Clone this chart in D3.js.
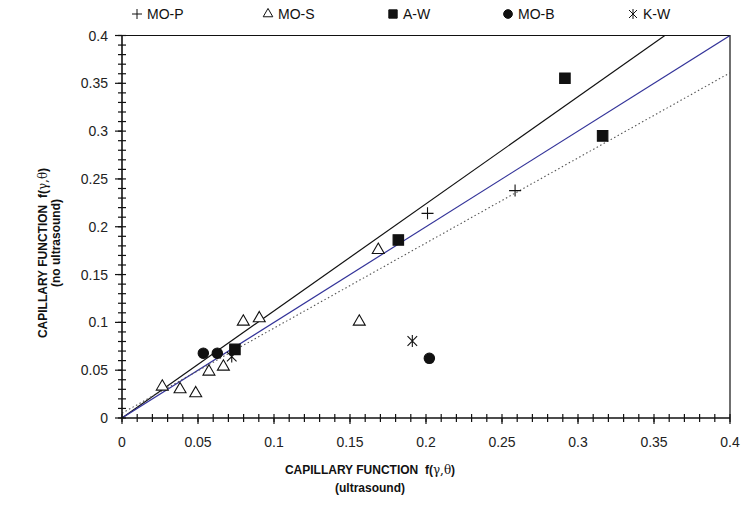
<!DOCTYPE html>
<html>
<head>
<meta charset="utf-8">
<script src="https://cdn.jsdelivr.net/npm/d3@7"></script>
<style>
  body { margin: 0; background: #fff; }
  svg { display: block; font-family: "Liberation Sans", Arial, sans-serif; }
</style>
</head>
<body>
<div id="chart"></div>
<script>
// Data: [ultrasound, no ultrasound]
const moP = [[0.201, 0.214], [0.2586, 0.2378]];
const moS = [[0.0265, 0.0328], [0.0382, 0.030], [0.0485, 0.0258], [0.0572, 0.0485],
  [0.0667, 0.0537], [0.0798, 0.1007], [0.0903, 0.1042], [0.1561, 0.1007], [0.1686, 0.1757]];
const aW = [[0.0743, 0.0718], [0.1818, 0.1862], [0.2914, 0.3553], [0.3162, 0.295]];
const moB = [[0.0535, 0.0677], [0.0627, 0.0677], [0.2022, 0.0624]];
const kW = [[0.0722, 0.0642], [0.191, 0.0805]];
const seriesNames = ['MO-P', 'MO-S', 'A-W', 'MO-B', 'K-W'];
const tickValues = [0, 0.05, 0.1, 0.15, 0.2, 0.25, 0.3, 0.35, 0.4];
// reference lines: y = slope * x + intercept
const refLines = [
  {slope: 1.12, intercept: 0, color: '#111', dash: null},
  {slope: 1.0, intercept: 0, color: '#333399', dash: null},
  {slope: 0.89, intercept: 0.005, color: '#555', dash: '1.5,2.5'},
];

const width = 742, height = 508;
const svg = d3.select('#chart').append('svg').attr('width', width).attr('height', height);

const x = d3.scaleLinear().domain([0, 0.4]).range([122, 730]);
const y = d3.scaleLinear().domain([0, 0.4]).range([418, 35.5]);
const fmt = d => String(+d.toFixed(2));

// frame (top/right)
svg.append('path')
  .attr('d', `M${x(0)},${y(0.4)}H${x(0.4)}V${y(0)}`)
  .attr('fill', 'none').attr('stroke', '#111').attr('stroke-width', 1.2);

// reference lines, clipped to the plot box
svg.append('clipPath').attr('id', 'plot')
  .append('rect').attr('x', x(0)).attr('y', y(0.4))
  .attr('width', x(0.4) - x(0)).attr('height', y(0) - y(0.4));

const line = d3.line().x(d => x(d[0])).y(d => y(d[1]));
refLines.forEach(l => {
  const pts = [[0, l.intercept], [0.4, l.intercept + l.slope * 0.4]];
  svg.append('path').attr('d', line(pts))
    .attr('clip-path', 'url(#plot)')
    .attr('fill', 'none').attr('stroke', l.color)
    .attr('stroke-width', l.dash ? 1.1 : 1.2)
    .attr('stroke-dasharray', l.dash);
});

// axes lines and ticks (ticks cross the axis)
const minor = d3.range(0, 0.4001, 0.01);
const axes = svg.append('g').attr('stroke', '#111');
axes.append('line').attr('x1', x(0)).attr('x2', x(0.4)).attr('y1', y(0)).attr('y2', y(0)).attr('stroke-width', 1.6);
axes.append('line').attr('x1', x(0)).attr('x2', x(0)).attr('y1', y(0)).attr('y2', y(0.4)).attr('stroke-width', 1.6);
axes.selectAll('.xt').data(minor).join('line')
  .attr('x1', d => x(d)).attr('x2', d => x(d))
  .attr('y1', y(0) - 4).attr('y2', y(0) + 4).attr('stroke-width', 1.2);
axes.selectAll('.yt').data(minor).join('line')
  .attr('y1', d => y(d)).attr('y2', d => y(d))
  .attr('x1', x(0) - 4).attr('x2', x(0) + 4).attr('stroke-width', 1.2);
axes.selectAll('.xm').data(tickValues).join('line')
  .attr('x1', d => x(d)).attr('x2', d => x(d))
  .attr('y1', y(0)).attr('y2', y(0) + 6).attr('stroke-width', 1.2);
axes.selectAll('.ym').data(tickValues).join('line')
  .attr('y1', d => y(d)).attr('y2', d => y(d))
  .attr('x1', x(0) - 7).attr('x2', x(0)).attr('stroke-width', 1.2);

// tick labels
svg.append('g').selectAll('text').data(tickValues).join('text')
  .attr('x', d => x(d)).attr('y', 447).attr('text-anchor', 'middle')
  .attr('font-size', 14).attr('fill', '#222').text(fmt);
svg.append('g').selectAll('text').data(tickValues).join('text')
  .attr('x', 108).attr('y', d => y(d) + 5).attr('text-anchor', 'end')
  .attr('font-size', 14).attr('fill', '#222').text(fmt);

// axis titles
function title(g) {
  const t = g.append('text').attr('text-anchor', 'middle').attr('font-size', 12)
    .attr('font-weight', 'bold').attr('fill', '#111');
  t.append('tspan').text('CAPILLARY FUNCTION\u00a0\u00a0f(');
  t.append('tspan').attr('font-weight', 'normal').attr('font-family', '"DejaVu Serif", serif').text('γ,θ');
  t.append('tspan').text(')');
  return g;
}
const xt = svg.append('g').attr('transform', 'translate(370,474)');
title(xt);
svg.append('text').attr('x', 370).attr('y', 492).attr('text-anchor', 'middle')
  .attr('font-size', 12).attr('font-weight', 'bold').attr('fill', '#111').text('(ultrasound)');

const yt = svg.append('g').attr('transform', 'translate(47,253) rotate(-90)');
title(yt);
svg.append('text').attr('transform', 'translate(60,243) rotate(-90)').attr('text-anchor', 'middle')
  .attr('font-size', 12).attr('font-weight', 'bold').attr('fill', '#111').text('(no ultrasound)');

// marker shapes
const plusPath = r => `M${-r},0H${r}M0,${-r}V${r}`;
const starPath = r => {
  const a = r * 0.8;
  return `M0,${-r}V${r}M${-a},${-a}L${a},${a}M${-a},${a}L${a},${-a}`;
};
const markers = {
  'MO-P': {data: moP, d: plusPath(6), fill: 'none', lg: plusPath(5)},
  'MO-S': {data: moS, d: d3.symbol(d3.symbolTriangle, 62)(), fill: '#fff', lg: d3.symbol(d3.symbolTriangle, 40)()},
  'A-W': {data: aW, d: d3.symbol(d3.symbolSquare, 110)(), fill: '#111', lg: d3.symbol(d3.symbolSquare, 70)()},
  'MO-B': {data: moB, d: d3.symbol(d3.symbolCircle, 85)(), fill: '#111', lg: d3.symbol(d3.symbolCircle, 60)()},
  'K-W': {data: kW, d: starPath(6), fill: 'none', lg: starPath(5)},
};

seriesNames.forEach(name => {
  const m = markers[name];
  svg.append('g').selectAll('path').data(m.data).join('path')
    .attr('transform', d => `translate(${x(d[0])},${y(d[1])})`)
    .attr('d', m.d).attr('fill', m.fill).attr('stroke', '#111').attr('stroke-width', 1.1);
});

// legend
const legendX = [137, 268, 393, 508, 633];
const lg = svg.append('g');
seriesNames.forEach((name, i) => {
  const m = markers[name];
  lg.append('path').attr('transform', `translate(${legendX[i]},14)`)
    .attr('d', m.lg).attr('fill', m.fill).attr('stroke', '#111').attr('stroke-width', 1);
  lg.append('text').attr('x', legendX[i] + 10).attr('y', 19)
    .attr('font-size', 14).attr('fill', '#111').text(name);
});
</script>
</body>
</html>
